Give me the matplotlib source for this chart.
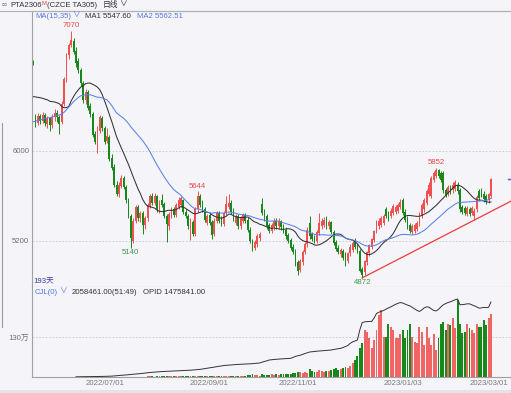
import numpy as np
import pandas as pd
import matplotlib
matplotlib.use('Agg')
from matplotlib import pyplot as plt
from matplotlib.lines import Line2D
from matplotlib.patches import Rectangle

plt.rcParams['font.family'] = ['Liberation Sans Narrow', 'Liberation Sans', 'Noto Sans CJK SC', 'DejaVu Sans']

# PTA2306 daily bars, 193 trading days (2022/05/19 .. 2023/03/02)
opens = [
    6800, 6300, 6250, 6310, 6270, 6320, 6240, 6290, 6230, 6300,
    6340, 6300, 6260, 6420, 6630, 6850, 6940, 6980, 6890, 6800,
    6720, 6600, 6450, 6520, 6400, 6330, 6150, 6080, 6180, 6290,
    6200, 6090, 6120, 5940, 5860, 5700, 5620, 5690, 5760, 5680,
    5560, 5420, 5200, 5380, 5500, 5400, 5450, 5340, 5400, 5510,
    5600, 5540, 5600, 5480, 5560, 5530, 5420, 5330, 5420, 5480,
    5430, 5500, 5520, 5560, 5460, 5420, 5300, 5370, 5260, 5480,
    5600, 5520, 5480, 5360, 5430, 5370, 5260, 5380, 5450, 5400,
    5350, 5450, 5500, 5540, 5470, 5360, 5420, 5330, 5380, 5430,
    5390, 5300, 5200, 5140, 5170, 5230, 5530, 5460, 5420, 5340,
    5290, 5320, 5380, 5330, 5380, 5330, 5300, 5250, 5210, 5150,
    5110, 5010, 4940, 5010, 5100, 5170, 5360, 5260, 5230, 5200,
    5270, 5330, 5340, 5400, 5330, 5370, 5280, 5190, 5140, 5080,
    5110, 5080, 5020, 5090, 5120, 5200, 5160, 5110, 4950, 4920,
    5010, 5090, 5150, 5210, 5290, 5330, 5340, 5360, 5480, 5450,
    5420, 5450, 5460, 5470, 5500, 5560, 5460, 5400, 5340, 5280,
    5290, 5310, 5350, 5420, 5480, 5540, 5620, 5600, 5740, 5780,
    5830, 5800, 5800, 5650, 5620, 5680, 5650, 5660, 5700, 5650,
    5500, 5490, 5440, 5480, 5450, 5420, 5480, 5640, 5650, 5620,
    5600, 5560, 5600,
]
highs = [
    6810, 6330, 6340, 6330, 6350, 6340, 6310, 6300, 6330, 6370,
    6360, 6320, 6440, 6660, 6870, 6960, 7070, 7000, 6920, 6830,
    6740, 6620, 6550, 6540, 6430, 6350, 6180, 6220, 6320, 6310,
    6220, 6200, 6140, 5970, 5880, 5730, 5720, 5790, 5780, 5700,
    5580, 5440, 5400, 5520, 5520, 5470, 5470, 5420, 5540, 5620,
    5630, 5630, 5610, 5560, 5620, 5550, 5440, 5460, 5500, 5500,
    5540, 5590, 5600, 5570, 5480, 5440, 5400, 5390, 5500, 5644,
    5620, 5560, 5500, 5440, 5450, 5390, 5400, 5470, 5470, 5420,
    5470, 5600, 5620, 5560, 5490, 5440, 5440, 5420, 5450, 5450,
    5410, 5320, 5220, 5210, 5260, 5280, 5580, 5480, 5440, 5360,
    5360, 5400, 5400, 5400, 5390, 5350, 5320, 5270, 5230, 5170,
    5130, 5030, 5040, 5120, 5190, 5320, 5420, 5280, 5250, 5300,
    5450, 5400, 5410, 5420, 5390, 5380, 5300, 5210, 5160, 5140,
    5130, 5100, 5100, 5170, 5200, 5230, 5180, 5130, 4970, 5030,
    5110, 5170, 5230, 5300, 5390, 5400, 5420, 5440, 5500, 5470,
    5490, 5530, 5520, 5540, 5570, 5580, 5480, 5420, 5360, 5350,
    5360, 5380, 5460, 5540, 5580, 5660, 5720, 5780, 5820, 5852,
    5840, 5820, 5820, 5670, 5700, 5700, 5720, 5740, 5720, 5670,
    5520, 5510, 5510, 5500, 5510, 5490, 5610, 5660, 5670, 5640,
    5620, 5630, 5760,
]
lows = [
    6760, 6210, 6230, 6240, 6250, 6220, 6200, 6180, 6200, 6270,
    6260, 6150, 6240, 6400, 6610, 6820, 6920, 6860, 6750, 6690,
    6580, 6430, 6420, 6360, 6300, 6120, 6060, 5980, 6160, 6180,
    6060, 6070, 5910, 5830, 5680, 5600, 5590, 5670, 5660, 5540,
    5400, 5140, 5180, 5360, 5380, 5370, 5260, 5310, 5380, 5490,
    5520, 5520, 5460, 5450, 5500, 5400, 5190, 5300, 5400, 5410,
    5410, 5480, 5500, 5440, 5400, 5310, 5210, 5240, 5240, 5460,
    5500, 5460, 5370, 5340, 5340, 5220, 5240, 5360, 5360, 5330,
    5330, 5430, 5480, 5440, 5380, 5340, 5310, 5310, 5360, 5360,
    5280, 5180, 5110, 5120, 5150, 5200, 5430, 5380, 5310, 5270,
    5270, 5300, 5310, 5310, 5300, 5270, 5220, 5180, 5120, 5080,
    4980, 4900, 4920, 4990, 5080, 5150, 5220, 5200, 5180, 5180,
    5250, 5310, 5320, 5310, 5310, 5260, 5160, 5110, 5080, 5060,
    5030, 4980, 5000, 5070, 5100, 5130, 5090, 4920, 4872, 4900,
    4990, 5070, 5130, 5190, 5270, 5310, 5320, 5340, 5400, 5380,
    5400, 5430, 5440, 5450, 5480, 5430, 5370, 5310, 5270, 5260,
    5270, 5290, 5330, 5400, 5460, 5520, 5600, 5580, 5720, 5760,
    5760, 5720, 5630, 5590, 5600, 5620, 5630, 5640, 5620, 5460,
    5440, 5430, 5420, 5420, 5430, 5390, 5460, 5560, 5590, 5550,
    5530, 5540, 5580,
]
closes = [
    6770, 6250, 6310, 6270, 6320, 6250, 6290, 6230, 6300, 6340,
    6300, 6240, 6420, 6640, 6850, 6940, 6990, 6880, 6780, 6720,
    6600, 6450, 6520, 6380, 6330, 6140, 6080, 6200, 6300, 6200,
    6080, 6130, 5930, 5850, 5700, 5620, 5700, 5760, 5680, 5560,
    5420, 5230, 5380, 5500, 5400, 5450, 5340, 5400, 5520, 5600,
    5540, 5600, 5480, 5540, 5520, 5420, 5350, 5440, 5480, 5430,
    5520, 5560, 5580, 5460, 5420, 5330, 5380, 5260, 5480, 5600,
    5520, 5480, 5390, 5420, 5360, 5250, 5380, 5450, 5380, 5350,
    5450, 5530, 5540, 5460, 5400, 5420, 5330, 5400, 5430, 5380,
    5300, 5200, 5150, 5190, 5240, 5260, 5450, 5400, 5330, 5290,
    5340, 5380, 5330, 5380, 5320, 5290, 5240, 5200, 5140, 5100,
    5000, 4930, 5020, 5100, 5170, 5300, 5240, 5220, 5200, 5280,
    5360, 5380, 5390, 5330, 5370, 5280, 5180, 5130, 5100, 5120,
    5050, 5000, 5090, 5150, 5180, 5150, 5110, 4930, 4900, 5020,
    5100, 5160, 5220, 5290, 5370, 5380, 5400, 5420, 5420, 5400,
    5470, 5510, 5500, 5520, 5550, 5450, 5390, 5330, 5290, 5330,
    5340, 5360, 5440, 5520, 5560, 5640, 5700, 5760, 5800, 5830,
    5780, 5740, 5650, 5610, 5680, 5640, 5700, 5720, 5640, 5480,
    5460, 5450, 5490, 5440, 5490, 5470, 5590, 5580, 5610, 5570,
    5560, 5620, 5750,
]
# closes before the visible window (only feed the moving averages)
closes_before = [
    6060, 6110, 6080, 6130, 6050, 6090, 6120, 6070, 6100, 6140,
    6060, 6080, 6110, 6070, 6090, 6120, 6060, 6100, 6080, 6110,
    6300, 6350, 6330, 6400, 6360, 6380, 6420, 6350, 6390, 6400,
    6370, 6780, 6830, 6820,
]
volumes = [
    5200, 3100, 2800, 3500, 2600, 3900, 3300, 2900, 4100, 3600,
    3000, 4400, 6800, 8900, 9500, 7800, 11200, 9800, 8600, 7400,
    6900, 8100, 7200, 6600, 7000, 8800, 7600, 6900, 7300, 6200,
    7700, 6800, 8400, 9100, 10300, 8700, 9400, 8200, 10800, 12600,
    11900, 14800, 12200, 10900, 11600, 9800, 12400, 13100, 18000, 24000,
    21000, 16000, 22000, 19000, 26000, 23000, 31000, 20000, 18000, 24000,
    27000, 22000, 25000, 29000, 33000, 21000, 38000, 30000, 35000, 42000,
    28000, 26000, 34000, 30000, 27000, 39000, 31000, 29000, 33000, 36000,
    44000, 30000, 27000, 35000, 41000, 32000, 38000, 29000, 36000, 43000,
    52000, 68000, 85000, 60000, 55000, 48000, 110000, 75000, 62000, 70000,
    85000, 72000, 90000, 78000, 95000, 88000, 102000, 93000, 110000, 125000,
    140000, 180000, 150000, 130000, 160000, 145000, 260000, 190000, 170000, 150000,
    240000, 200000, 175000, 210000, 185000, 230000, 250000, 280000, 230000, 270000,
    300000, 330000, 290000, 360000, 450000, 560000, 700000, 950000, 1100000, 1550000,
    1480000, 1270000, 940000, 1200000, 1540000, 2030000, 2190000, 1320000, 1320000, 1750000,
    1650000, 1540000, 1270000, 1270000, 1400000, 1540000, 1270000, 1540000, 1750000, 1320000,
    1160000, 1100000, 1650000, 1480000, 1050000, 1650000, 1270000, 1050000, 1400000, 890000,
    1270000, 1750000, 1810000, 1540000, 1750000, 1700000, 1920000, 1600000, 2510000, 1750000,
    1430000, 1480000, 1750000, 1590000, 1540000, 1450000, 1750000, 1650000, 1650000, 1860000,
    1700000, 1920000, 2058461,
]
# open interest, first 18 days not shown
opid = [np.nan] * 18 + [
    4000, 4500, 5200, 5600, 6100, 6900, 7500, 8200, 8800, 9600,
    10500, 11300, 12400, 13800, 15500, 17200, 21000, 25000, 29000, 33000,
    37000, 41000, 45000, 50000, 53000, 58000, 63000, 67000, 72000, 78000,
    85000, 89000, 93000, 97000, 101000, 105000, 107000, 110000, 112000, 114000,
    116000, 118000, 120000, 122000, 124000, 125000, 127000, 130000, 134000, 138000,
    141000, 146000, 150000, 157000, 165000, 172000, 180000, 188000, 196000, 204000,
    211000, 219000, 226000, 230000, 235000, 239000, 243000, 246000, 248000, 250000,
    252000, 253000, 255000, 257000, 262000, 268000, 272000, 275000, 292000, 305000,
    318000, 334000, 340000, 345000, 349000, 352000, 356000, 359000, 361000, 364000,
    368000, 385000, 405000, 418000, 427000, 445000, 462000, 478000, 492000, 498000,
    503000, 508000, 512000, 516000, 521000, 525000, 529000, 531000, 540000, 550000,
    558000, 564000, 580000, 600000, 620000, 663000, 690000, 710000, 728000, 925000,
    1070000, 1085000, 1090000, 1092000, 1095000, 1160000, 1250000, 1275000, 1290000, 1310000,
    1335000, 1360000, 1380000, 1405000, 1430000, 1450000, 1465000, 1455000, 1435000, 1415000,
    1400000, 1370000, 1340000, 1310000, 1290000, 1320000, 1360000, 1380000, 1375000, 1340000,
    1310000, 1300000, 1330000, 1380000, 1420000, 1445000, 1465000, 1480000, 1500000, 1520000,
    1535000, 1420000, 1425000, 1430000, 1440000, 1440000, 1420000, 1400000, 1380000, 1355000,
    1360000, 1370000, 1365000, 1372000, 1475841,
]
tick_idx = [30, 74, 111, 155, 191]
tick_labels = ['2022/07/01', '2022/09/01', '2022/11/01', '2023/01/03', '2023/03/01']
trend_x = [138, 200.5]
trend_y = [4872, 5555]
ma1_last, ma2_last = 5547.60, 5562.51
vol_last, opid_last = 2058461.00, 1475841.00

W, H = 511, 393
BG = '#f5f5f9'
RED = '#f05050'
GREEN = '#16891a'
BLUE_TXT = '#5577dd'
FS = 5.6

def fx(px):
    return px / W

def fy(py):
    return 1 - py / H

n = len(closes)
idx = np.arange(n)
o = np.array(opens, float)
c = np.array(closes, float)
hi = np.array(highs, float)
lo = np.array(lows, float)
up = c >= o
colors = np.where(up, RED, GREEN)

allc = pd.Series(closes_before + closes, dtype=float)
ma15 = allc.rolling(15).mean().to_numpy()[len(closes_before):]
ma35 = allc.rolling(35).mean().to_numpy()[len(closes_before):]

fig = plt.figure(figsize=(W / 100, H / 100), dpi=100, facecolor=BG)
ax = fig.add_axes([fx(32), fy(287), fx(479), 276 / H], facecolor=BG)
axv = fig.add_axes([fx(32), fy(377), fx(479), 90 / H], facecolor=BG)

xlim = (-0.45, 200.4)

# price panel
ax.vlines(idx, lo, hi, colors=colors, lw=0.7)
ax.bar(idx, np.maximum(np.abs(c - o), 4), bottom=np.minimum(o, c), width=0.75,
       color=colors, linewidth=0)
ax.plot(idx, ma15, color='#333333', lw=0.75)
ax.plot(idx, ma35, color='#5b80e8', lw=0.75)
ax.plot(trend_x, trend_y, color='#ee3b3b', lw=0.9)
ax.plot([n + 6.3, n + 7.4], [c[-1], c[-1]], color='#4a5ad0', lw=1, clip_on=False)
ax.set_xlim(*xlim)
ax.set_ylim(4791, 7244)
ax.set_yticks([5200, 6000])
ax.set_yticklabels(['5200', '6000'])
ax.set_xticks([])
ax.tick_params(axis='y', length=0, pad=2, labelsize=FS, labelcolor='#707070')
ax.yaxis.grid(True, ls=(0, (2, 2)), color='#c4c4cc', lw=0.6)
ax.set_axisbelow(True)
ax.spines['right'].set_visible(False)
for s in ['left', 'top', 'bottom']:
    ax.spines[s].set_color('#a0a0a0')
    ax.spines[s].set_linewidth(0.8)

# high / low marks
def mark(i, val, col, above):
    y = hi[i] if above else lo[i]
    ax.annotate(str(int(val)), (i, y), xytext=(0, 1 if above else -1),
                textcoords='offset points', ha='center',
                va='bottom' if above else 'top', fontsize=FS, color=col)

i_max = int(np.argmax(hi))
i_min = int(np.argmin(lo))
i_5140 = 30 + int(np.argmin(lo[30:60]))
i_5644 = 60 + int(np.argmax(hi[60:100]))
i_5852 = 150 + int(np.argmax(hi[150:]))
mark(i_max, hi[i_max], '#e84a4a', True)
mark(i_5644, hi[i_5644], '#e84a4a', True)
mark(i_5852, hi[i_5852], '#e84a4a', True)
mark(i_5140, lo[i_5140], '#3f9a4a', False)
mark(i_min, lo[i_min], '#3f9a4a', False)

# volume panel
v = np.array(volumes, float)
vcol = np.where(up, '#f06464', GREEN)
axv.bar(idx, v, width=0.8, color=vcol, linewidth=0)
axv.set_xlim(*xlim)
axv.set_ylim(0, 2.95e6)
axv.set_yticks([1.3e6])
axv.set_yticklabels(['130万'])
axv.set_xticks(tick_idx)
axv.set_xticklabels(tick_labels)
axv.tick_params(axis='both', length=0, labelsize=FS, labelcolor='#7a7a7a')
axv.tick_params(axis='y', pad=2, labelcolor='#707070')
axv.tick_params(axis='x', pad=2.5)
axv.yaxis.grid(True, ls=(0, (2, 2)), color='#c4c4cc', lw=0.6)
axv.set_axisbelow(True)
axv.spines['right'].set_visible(False)
axv.spines['top'].set_visible(False)
for s in ['left', 'bottom']:
    axv.spines[s].set_color('#a0a0a0')
    axv.spines[s].set_linewidth(0.8)
axo = axv.twinx()
axo.plot(idx, np.array(opid, float), color='#333333', lw=0.7)
axo.set_ylim(0, opid_last * 90 / 75)
axo.set_xlim(*xlim)
axo.axis('off')

# header and legend rows, laid out piece after piece
renderer = fig.canvas.get_renderer()

def row(x, y, parts):
    for s, col, size, dy, gap in parts:
        t = fig.text(fx(x), fy(y + dy), s, fontsize=size, color=col, va='center')
        x += t.get_window_extent(renderer=renderer).width + gap

row(2, 5.5, [('▫▫', '#555555', 6, 0, 2),
             ('PTA2306', '#333333', FS, 0, 0),
             ('M', '#e04040', 4.2, -2, 0.5),
             ('(CZCE TA305)', '#333333', FS, 0, 6),
             ('日线', '#333333', FS, 0, 1),
             ('∨', '#333333', FS, 0, 0)])
fig.add_artist(Line2D([0, 1], [fy(11), fy(11)], color='#b0b0b0', lw=0.8))

row(35, 16.5, [('MA(15,35)', BLUE_TXT, FS, 0, 1),
               ('∨', BLUE_TXT, FS, 0, 5),
               ('MA1 %.2f' % ma1_last, '#333333', FS, 0, 6),
               ('MA2 %.2f' % ma2_last, BLUE_TXT, FS, 0, 0)])

fig.text(fx(33), fy(280.5), '193天', fontsize=FS, color='#3a3aa0', va='center')
row(35, 292.5, [('CJL(0)', BLUE_TXT, FS, 0, 1),
                ('∨', BLUE_TXT, FS, 0, 5),
                ('%.2f(51:49)' % vol_last, '#333333', FS, 0, 5),
                ('OPID %.2f' % opid_last, '#333333', FS, 0, 0)])

fig.add_artist(Line2D([fx(1.5), fx(1.5)], [fy(123), fy(327)], color='#9a9a9a', lw=0.8))
fig.add_artist(Rectangle((0, 0), 1, fy(390), transform=fig.transFigure,
                         color='#e4e4e8', lw=0))

fig.savefig('out.png', dpi=100, facecolor=BG)
